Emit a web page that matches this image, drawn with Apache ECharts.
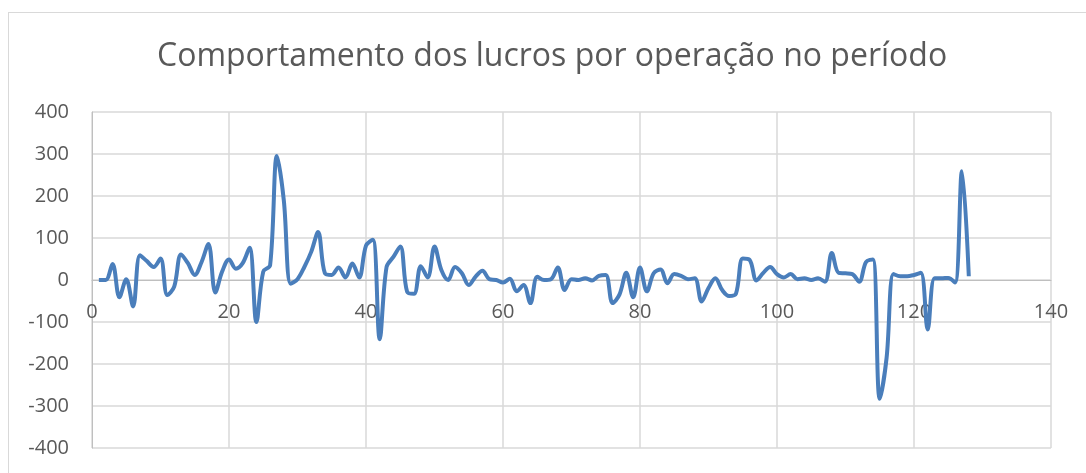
<!DOCTYPE html>
<html>
<head>
<meta charset="utf-8">
<script src="https://cdn.jsdelivr.net/npm/echarts@6/dist/echarts.min.js"></script>
<style>
  html, body { margin: 0; padding: 0; background: #fff; }
  #frame { position: absolute; left: 8px; top: 12px; width: 1090px; height: 470px; border: 1px solid #d9d9d9; }
  #main { position: absolute; left: 0; top: 0; width: 1086px; height: 473px; }
</style>
</head>
<body>
<div id="frame"></div>
<div id="main"></div>
<script>
// lucro por operação (operações 1..128)
var lucros = [
  0, 0, 38, -41, 2, -63, 59, 45, 31, 51,
  -36, -16, 61, 40, 12, 43, 86, -30, 20, 49,
  27, 40, 77, -100, 20, 35, 295, 190, -9, 2,
  31, 67, 114, 16, 12, 30, 6, 39, 6, 82,
  96, -141, 31, 55, 80, -28, -33, 33, 6, 80,
  24, 0, 31, 16, -12, 8, 22, 2, 0, -6,
  3, -27, -12, -55, 8, 0, 2, 30, -24, 2,
  0, 4, -1, 10, 12, -55, -35, 17, -41, 30,
  -27, 16, 25, -8, 14, 10, 2, 4, -51, -19,
  4, -24, -38, -33, 51, 48, -1, 17, 31, 14,
  6, 14, 2, 4, 0, 4, -4, 64, 17, 16,
  14, -4, 43, 49, -283, -185, 14, 9, 9, 12,
  17, -118, 4, 4, 5, -6, 259, 9
];
var titulo = 'Comportamento dos lucros por operação no período';

var chart = echarts.init(document.getElementById('main'), null, { renderer: 'canvas' });

var pontos = lucros.map(function (v, i) { return [i + 1, v]; });

var option = {
  animation: false,
  title: {
    text: titulo,
    left: 152,
    top: 36,
    textStyle: {
      fontFamily: 'Open Sans',
      fontWeight: 'normal',
      fontSize: 32,
      color: '#595959'
    }
  },
  grid: {
    left: 92,
    right: 35,
    top: 112,
    bottom: 25,
    outerBoundsMode: 'none',
    containLabel: false
  },
  xAxis: {
    type: 'value',
    min: 0,
    max: 140,
    interval: 20,
    offset: -168, // eixo cruza em y = 0
    axisLine: { onZero: false, lineStyle: { color: '#bfbfbf', width: 1 } },
    axisTick: { show: false },
    axisLabel: {
      margin: 22,
      fontFamily: 'Open Sans',
      fontSize: 20,
      color: '#595959'
    },
    splitLine: { show: true, lineStyle: { color: '#d9d9d9', width: 1.5 } }
  },
  yAxis: {
    type: 'value',
    min: -400,
    max: 400,
    interval: 100,
    axisLine: { show: true, lineStyle: { color: '#bfbfbf', width: 1 } },
    axisTick: { show: false },
    axisLabel: {
      margin: 23,
      fontFamily: 'Open Sans',
      fontSize: 20,
      color: '#595959'
    },
    splitLine: { show: true, lineStyle: { color: '#d9d9d9', width: 1.5 } }
  },
  series: [{
    type: 'line',
    data: pontos,
    smooth: 0.35,
    showSymbol: false,
    lineStyle: { color: '#4a7ebb', width: 4 },
    itemStyle: { color: '#4a7ebb' }
  }]
};

chart.setOption(option);
</script>
</body>
</html>
